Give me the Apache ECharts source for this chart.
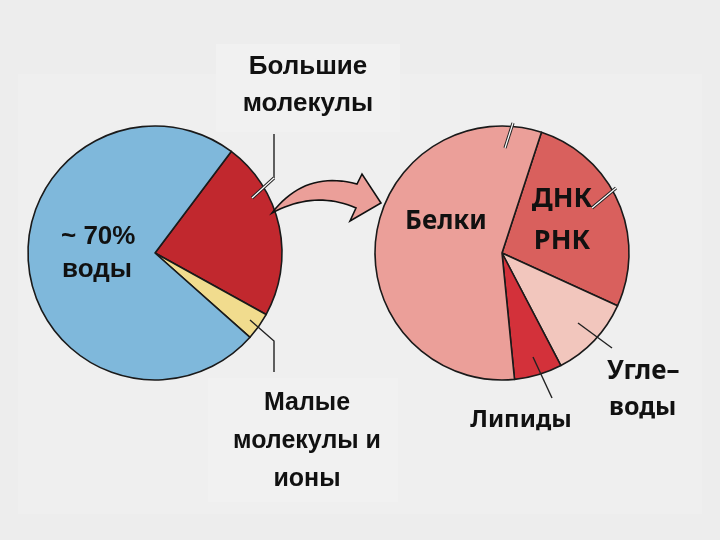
<!DOCTYPE html>
<html><head><meta charset="utf-8">
<script src="https://cdn.jsdelivr.net/npm/echarts@6/dist/echarts.min.js"></script>
<style>html,body{margin:0;padding:0;background:#ededed}#c{width:720px;height:540px}</style>
</head><body><div id="c"></div>
<script>
// Left pie: cell composition
const leftNames = ['Большие молекулы', 'Малые молекулы и ионы', 'Вода'];
const leftValues = [22.8, 3.5, 73.7];
const leftColors = ['#c1282e', '#f1dc8e', '#7fb8db'];
// Right pie: composition of large molecules
const rightNames = ['ДНК РНК', 'Углеводы', 'Липиды', 'Белки'];
const rightValues = [26.8, 10.5, 6.1, 56.6];
const rightColors = ['#d9605d', '#f2c6bd', '#d3313a', '#eb9f99'];

const chart = echarts.init(document.getElementById('c'), null, {renderer: 'canvas'});
const border = {borderColor: '#1a1a1a', borderWidth: 1.6};
function mk(names, values, colors) {
  return names.map((n, i) => ({name: n, value: values[i], itemStyle: Object.assign({color: colors[i]}, border)}));
}
const fL = "'Liberation Sans', Arial, sans-serif";
const fR = "'Noto Sans', 'DejaVu Sans', sans-serif";
function txt(x, y, s, size, font, align) {
  return {type: 'text', x: x, y: y, z: 10, style: {text: s, font: 'bold ' + size + 'px ' + font, fill: '#111', textAlign: align || 'center', textVerticalAlign: 'middle'}};
}
function dbl(points) {
  return [
    {type: 'polyline', z: 5, shape: {points: points}, style: {stroke: '#222', lineWidth: 3.2, fill: null}},
    {type: 'polyline', z: 6, shape: {points: points}, style: {stroke: '#fff', lineWidth: 1.2, fill: null}}
  ];
}
function line(points) {
  return {type: 'polyline', z: 5, shape: {points: points}, style: {stroke: '#222', lineWidth: 1.4, fill: null}};
}
// quadratic curve sampler for decorative arrow outline
function quad(p0, c, p1, n) {
  const out = [];
  for (let i = 0; i <= n; i++) {
    const t = i / n, u = 1 - t;
    out.push([u*u*p0[0] + 2*u*t*c[0] + t*t*p1[0], u*u*p0[1] + 2*u*t*c[1] + t*t*p1[1]]);
  }
  return out;
}
const arrowPts = [].concat(
  quad([272, 213], [305, 170], [357, 184], 20),
  [[362, 174], [381, 203], [350, 221]],
  quad([356, 208], [315, 190], [272, 213], 20)
);
chart.setOption({
  backgroundColor: '#ededed',
  animation: false,
  series: [
    {type: 'pie', center: [155, 253], radius: 127, startAngle: 53.1, clockwise: true,
     label: {show: false}, labelLine: {show: false}, emphasis: {disabled: true}, silent: true,
     data: mk(leftNames, leftValues, leftColors)},
    {type: 'pie', center: [502, 253], radius: 127, startAngle: 71.9, clockwise: true,
     label: {show: false}, labelLine: {show: false}, emphasis: {disabled: true}, silent: true,
     data: mk(rightNames, rightValues, rightColors)}
  ],
  graphic: [
    {type: 'rect', z: -2, shape: {x: 18, y: 74, width: 684, height: 440}, style: {fill: '#efefef'}},
    {type: 'rect', z: -1, shape: {x: 216, y: 44, width: 184, height: 88}, style: {fill: '#f1f1f1'}},
    {type: 'rect', z: -1, shape: {x: 208, y: 378, width: 190, height: 124}, style: {fill: '#f1f1f1'}},
    {type: 'polygon', z: 8, shape: {points: arrowPts}, style: {fill: '#eb9f99', stroke: '#111', lineWidth: 1.6}},
    line([[274, 134], [274, 178]]),
    ...dbl([[274, 178], [252, 198]]),
    line([[250, 320], [274, 341], [274, 372]]),
    ...dbl([[505, 148], [513, 123]]),
    ...dbl([[592, 208], [616, 188]]),
    line([[578, 323], [612, 348]]),
    line([[533, 357], [552, 398]]),
    txt(308, 67, 'Большие', 26, fL),
    txt(308, 104, 'молекулы', 26, fL),
    txt(61, 237, '~ 70%', 26, fL, 'left'),
    txt(62, 270, 'воды', 26, fL, 'left'),
    txt(307, 403, 'Малые', 25, fL),
    txt(307, 441, 'молекулы и', 25, fL),
    txt(307, 479, 'ионы', 25, fL),
    txt(446, 222, 'Белки', 26, fR),
    txt(562, 199, 'ДНК', 27, fR),
    txt(562, 241, 'РНК', 27, fR),
    txt(521, 420, 'Липиды', 24, fR),
    txt(607, 372, 'Угле–', 26, fR, 'left'),
    txt(609, 408, 'воды', 25, fR, 'left')
  ]
});
</script></body></html>
